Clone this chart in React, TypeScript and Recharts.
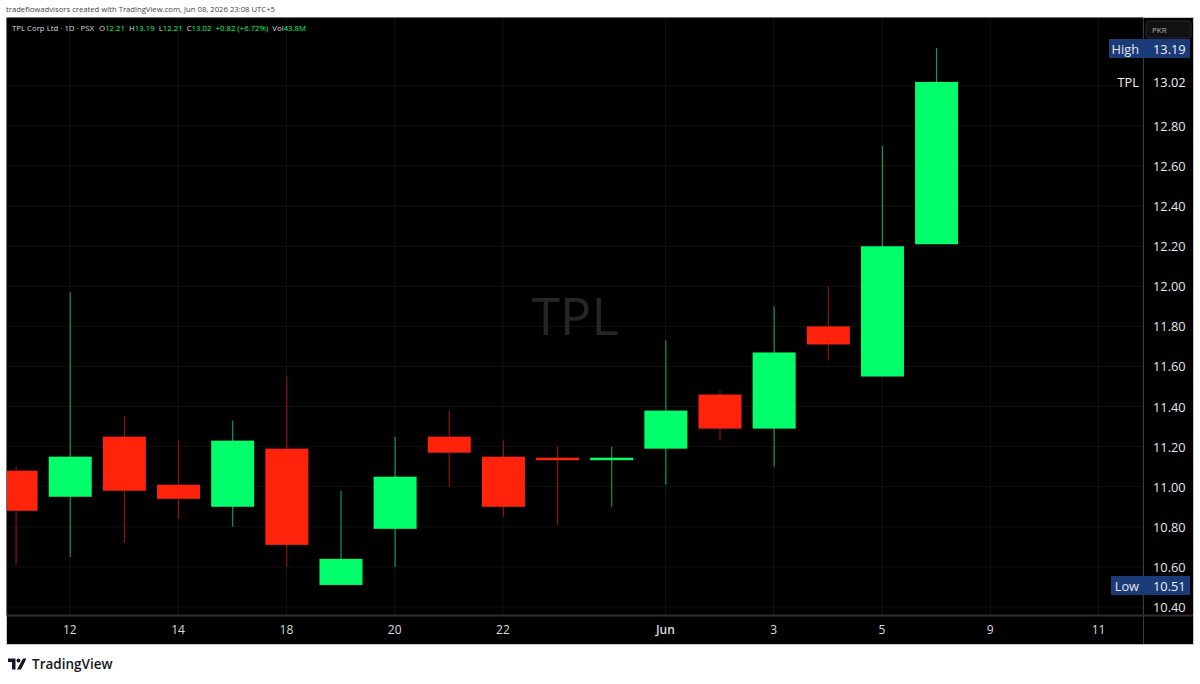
import React from "react";
import { ComposedChart, Bar, XAxis, YAxis, CartesianGrid, Customized } from "recharts";

const indices = [0,1,2,3,4,5,6,7,8,9,10,11,12,13,14,15,16,17];
const opens = [11.08,10.95,11.25,11.01,10.90,11.19,10.51,10.79,11.25,11.15,11.145,11.135,11.19,11.46,11.29,11.80,11.55,12.21];
const highs = [11.10,11.97,11.35,11.23,11.33,11.55,10.98,11.25,11.38,11.23,11.20,11.20,11.73,11.48,11.90,12.00,12.70,13.19];
const lows = [10.61,10.65,10.72,10.84,10.80,10.60,10.51,10.60,11.00,10.85,10.81,10.90,11.01,11.23,11.10,11.63,11.55,12.21];
const closes = [10.88,11.15,10.98,10.94,11.23,10.71,10.64,11.05,11.17,10.90,11.135,11.145,11.38,11.29,11.67,11.71,12.20,13.02];

const xTickIndex = [1,3,5,7,9,12,14,16,18,20];
const xTickLabels = ["12","14","18","20","22","Jun","3","5","9","11"];
const yTicks = [10.4,10.6,10.8,11.0,11.2,11.4,11.6,11.8,12.0,12.2,12.4,12.6,12.8,13.0];

const data = indices.map((i) => ({ i, open: opens[i], high: highs[i], low: lows[i], close: closes[i], range: [lows[i], highs[i]] }));

const FONT = "'Open Sans','Noto Sans',sans-serif";
const UP = "#00ff6a";
const DOWN = "#ff230c";
const UP_WICK = "#0b9a4a";
const DOWN_WICK = "#8f1208";

const Candle = (props: any) => {
  const { x, y, width, height, payload } = props;
  const span = payload.high - payload.low;
  const py = (v: number) => y + ((payload.high - v) / span) * height;
  const top = py(Math.max(payload.open, payload.close));
  const bot = py(Math.min(payload.open, payload.close));
  const up = payload.close >= payload.open;
  const cx = x + width / 2;
  return (
    <g>
      <line x1={cx} x2={cx} y1={y} y2={y + height} stroke={up ? UP_WICK : DOWN_WICK} strokeWidth={1.2} />
      <rect x={x} y={top} width={width} height={Math.max(bot - top, 2.5)} fill={up ? UP : DOWN} />
    </g>
  );
};

const XTick = (props: any) => {
  const { x, payload } = props;
  const k = xTickIndex.indexOf(payload.value);
  return <text x={x} y={634} textAnchor="middle" fill="#dbdbdb" fontSize={12} fontWeight={k === 5 ? 600 : 500} fontFamily={FONT}>{xTickLabels[k]}</text>;
};

const YTick = (props: any) => {
  const { y, payload } = props;
  if (payload.value === 13) return null;
  return <text x={1153} y={y + 5} textAnchor="start" fill="#e6e6e6" fontSize={12.8} fontWeight={500} fontFamily={FONT}>{payload.value.toFixed(2)}</text>;
};

const Header = () => (
  <text x={12} y={31} fontSize={7.8} fontFamily={FONT} fill="#d8d8d8">
    <tspan>TPL Corp Ltd · 1D · PSX</tspan><tspan dx={5}>O</tspan><tspan fill={UP}>12.21</tspan>
    <tspan dx={4}>H</tspan><tspan fill={UP}>13.19</tspan>
    <tspan dx={4}>L</tspan><tspan fill={UP}>12.21</tspan>
    <tspan dx={4}>C</tspan><tspan fill={UP}>13.02</tspan>
    <tspan dx={4} fill={UP}>+0.82 (+6.72%)</tspan>
    <tspan dx={4}>Vol</tspan><tspan fill={UP}>43.8M</tspan>
  </text>
);

const Badge = ({ y, left, label, value }: any) => (
  <g fontFamily={FONT} fontSize={12.8} fontWeight={500}>
    <rect x={left} y={y - 9.5} width={1190 - left} height={19} fill="#1a3a78" />
    <text x={1139} y={y + 5} textAnchor="end" fill="#e8e8e8">{label}</text>
    <text x={1153} y={y + 5} fill="#f0f0f0">{value}</text>
  </g>
);

const Overlay = () => (
  <g>
    <text x={575} y={335} textAnchor="middle" fontSize={52} fontFamily={FONT} fill="#262626">TPL</text>
    <Header />
    <line x1={1143.5} x2={1143.5} y1={18} y2={644} stroke="#3a3a3a" />
    <line x1={7} x2={1193} y1={615.5} y2={615.5} stroke="#2e2e2e" strokeWidth={2} />
    <rect x={1146} y={21} width={45} height={17} rx={3} fill="#111111" stroke="#2a2a2a" />
    <text x={1152} y={33} fontSize={8} fontFamily={FONT} fill="#b0b0b0">PKR</text>
    <Badge y={48.5} left={1109} label="High" value="13.19" />
    <text x={1139} y={87} textAnchor="end" fontSize={12.8} fontWeight={500} fontFamily={FONT} fill="#f0f0f0">TPL</text>
    <text x={1153} y={87} fontSize={12.8} fontWeight={500} fontFamily={FONT} fill="#f0f0f0">13.02</text>
    <Badge y={585.5} left={1111} label="Low" value="10.51" />
  </g>
);

export default function App() {
  return (
    <div style={{ position: "absolute", left: 0, top: 0, width: 1200, height: 684, background: "#ffffff", overflow: "hidden" }}>
      <div style={{ position: "absolute", left: 6, top: 4, font: `7.7px ${FONT}`, color: "#444", whiteSpace: "nowrap" }}>
        tradeflowadvisors created with TradingView.com, Jun 08, 2026 23:08 UTC+5
      </div>
      <div style={{ position: "absolute", left: 6, top: 17, width: 1188, height: 628, background: "#000", outline: "1px solid #c8c8c8", outlineOffset: -1 }} />
      <div style={{ position: "absolute", left: 0, top: 0 }}>
        <ComposedChart width={1200} height={684} data={data} margin={{ top: 18, right: 7, bottom: 40, left: 7 }}>
          <CartesianGrid stroke="#121212" strokeWidth={1} />
          <XAxis dataKey="i" type="number" domain={[-0.16, 20.82]} ticks={xTickIndex} tick={<XTick />} allowDataOverflow tickLine={false} axisLine={false} height={28} interval={0} />
          <YAxis yAxisId="0" orientation="right" type="number" domain={[10.355, 13.339]} ticks={yTicks} tick={<YTick />} allowDataOverflow tickLine={false} axisLine={false} width={50} interval={0} />
          <Bar dataKey="range" barSize={43} shape={<Candle />} isAnimationActive={false} />
          <Customized component={Overlay} />
        </ComposedChart>
      </div>
      <svg style={{ position: "absolute", left: 8, top: 657 }} width={18} height={14} viewBox="0 0 36 28">
        <path d="M0 3h15v22H8V10H0z M30 3h7L26 25h-8z" fill="#131722" />
        <circle cx="21" cy="7" r="4" fill="#131722" />
      </svg>
      <div style={{ position: "absolute", left: 32, top: 655, font: `600 13.5px ${FONT}`, color: "#131722" }}>TradingView</div>
    </div>
  );
}
